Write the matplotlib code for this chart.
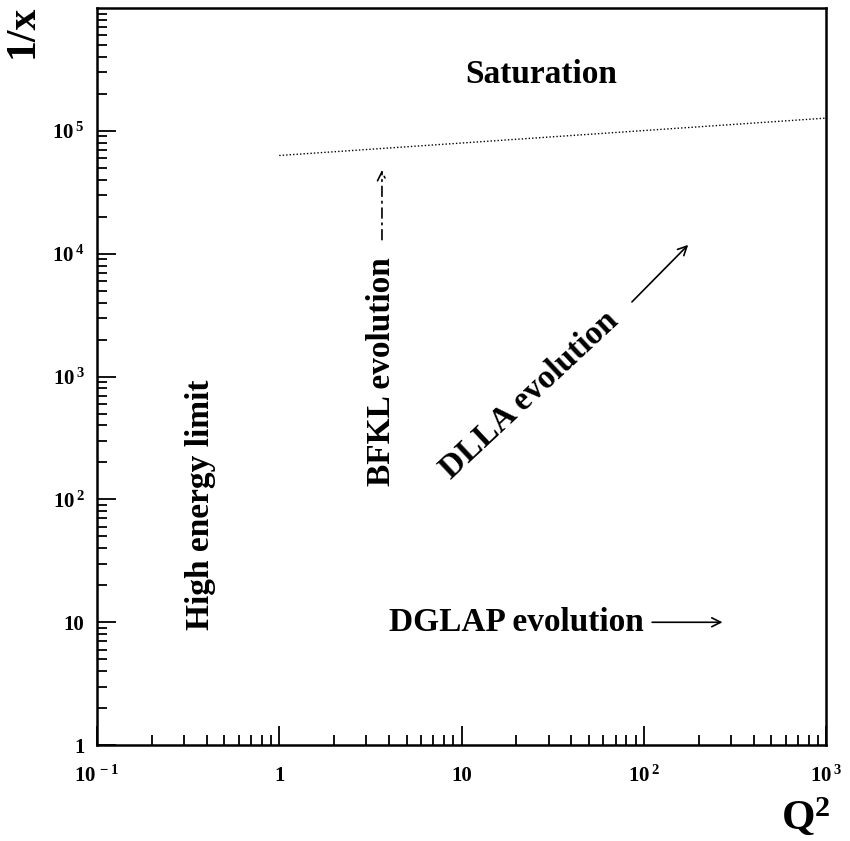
import numpy as np
import matplotlib.pyplot as plt
from matplotlib.ticker import FixedLocator, FixedFormatter, LogLocator, NullFormatter

plt.rcParams['font.family'] = ['Liberation Serif', 'DejaVu Serif']
plt.rcParams['font.weight'] = 'bold'
plt.rcParams['mathtext.fontset'] = 'custom'
plt.rcParams['mathtext.rm'] = 'Liberation Serif:bold'
plt.rcParams['mathtext.bf'] = 'Liberation Serif:bold'
plt.rcParams['mathtext.it'] = 'Liberation Serif:bold'

# axis ranges and tick labels
q2_range = (0.1, 1000.0)
inv_x_range = (1.0, 1.0e6)
x_major = [0.1, 1, 10, 100, 1000]
x_labels = [r'$10^{\,-1}$', '1', '10', r'$10^{\,2}$', r'$10^{\,3}$']
y_major = [1, 10, 100, 1e3, 1e4, 1e5]
y_labels = ['1', '10', r'$10^{\,2}$', r'$10^{\,3}$', r'$10^{\,4}$', r'$10^{\,5}$']

# saturation boundary (dotted)
sat_q2 = [1.0, 1000.0]
sat_inv_x = [6.3e4, 1.27e5]

# region labels: (text, Q2, 1/x, rotation)
region_text = ['Saturation', 'DGLAP evolution', 'High energy limit',
               'BFKL evolution', 'DLLA evolution']
region_q2 = [27.5, 20.0, 0.37, 3.66, 23.5]
region_inv_x = [2.9e5, 10.0, 90.0, 1100.0, 700.0]
region_rot = [0, 0, 90, 90, 43]

# evolution arrows: start -> end in (Q2, 1/x)
arrow_start = [(111.0, 10.0), (3.66, 1.3e4), (86.0, 4050.0)]
arrow_end = [(270.0, 10.0), (3.66, 4.8e4), (175.0, 1.18e4)]
arrow_style = ['-', (0, (6, 3, 1, 3)), '-']

fig = plt.figure(figsize=(8.5, 8.41), dpi=100)
ax = fig.add_axes([0.114, 0.114, 0.858, 0.8765])
ax.set_xscale('log')
ax.set_yscale('log')
ax.set_xlim(*q2_range)
ax.set_ylim(*inv_x_range)

for s in ax.spines.values():
    s.set_linewidth(1.8)

ax.xaxis.set_major_locator(FixedLocator(x_major))
ax.xaxis.set_major_formatter(FixedFormatter(x_labels))
ax.yaxis.set_major_locator(FixedLocator(y_major))
ax.yaxis.set_major_formatter(FixedFormatter(y_labels))
ax.xaxis.set_minor_locator(LogLocator(base=10, subs=np.arange(2, 10), numticks=20))
ax.yaxis.set_minor_locator(LogLocator(base=10, subs=np.arange(2, 10), numticks=20))
ax.xaxis.set_minor_formatter(NullFormatter())
ax.yaxis.set_minor_formatter(NullFormatter())

ax.tick_params(which='both', direction='in', top=False, right=False, width=1.3)
ax.tick_params(which='major', length=14, labelsize=15)
ax.tick_params(which='minor', length=7)
ax.tick_params(axis='x', which='major', pad=15)
ax.tick_params(axis='y', which='major', pad=9)

ax.plot(sat_q2, sat_inv_x, linestyle=(0, (1, 1.5)), color='black', lw=1.0)

for t, xq, yv, r in zip(region_text, region_q2, region_inv_x, region_rot):
    ax.text(xq, yv, t, rotation=r, ha='center', va='center',
            fontsize=24, fontweight='bold', rotation_mode='anchor')

for (x0, y0), (x1, y1), ls in zip(arrow_start, arrow_end, arrow_style):
    ax.annotate('', xy=(x1, y1), xytext=(x0, y0),
                arrowprops=dict(arrowstyle='->', color='black', lw=1.2,
                                linestyle=ls, mutation_scale=16,
                                shrinkA=0, shrinkB=0))

fig.text(0.027, 0.963, '1/x', rotation=90, ha='center', va='center',
         fontsize=30, fontweight='bold')
fig.text(0.948, 0.027, r'$\mathbf{Q^{2}}$', ha='center', va='center',
         fontsize=31)

fig.savefig('out.png', dpi=100)
